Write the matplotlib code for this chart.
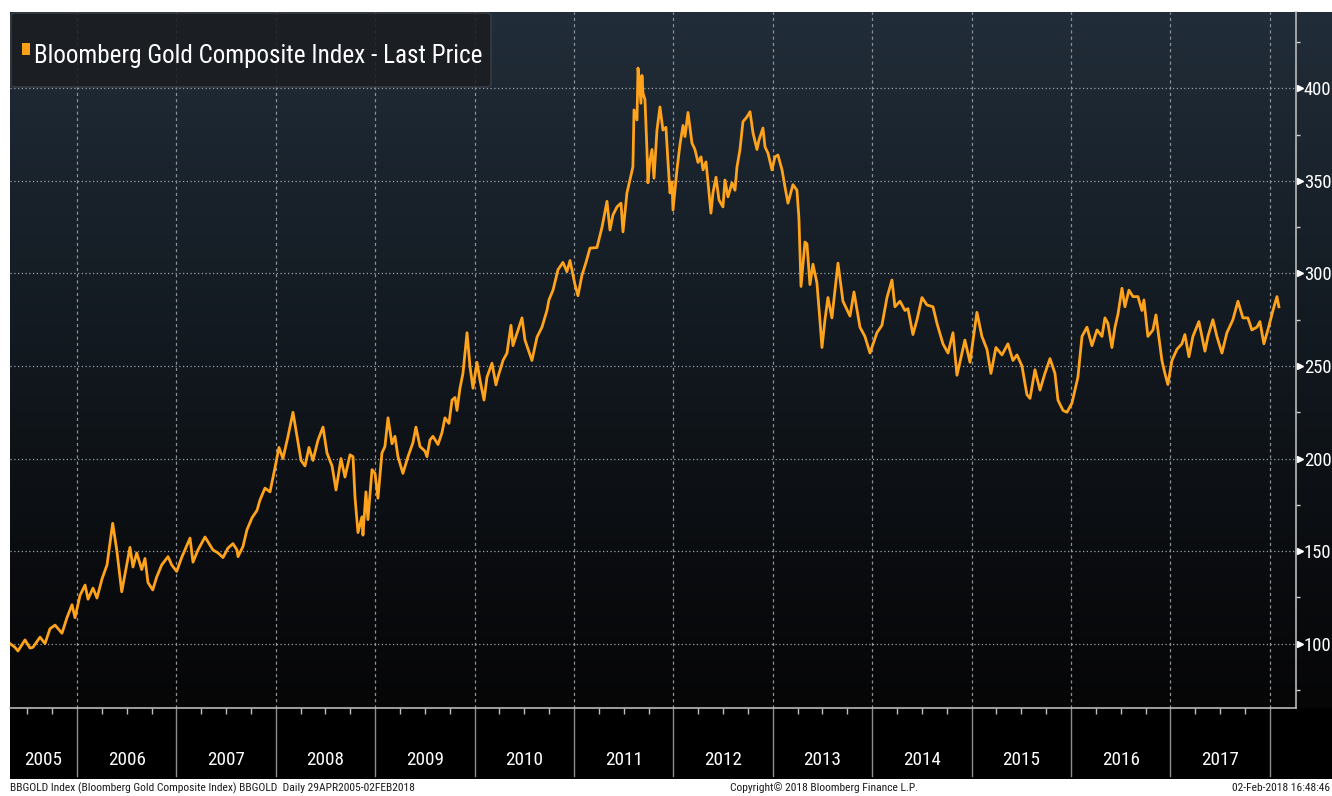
import os
import numpy as np
import matplotlib
matplotlib.use("Agg")
import matplotlib.pyplot as plt
from matplotlib import font_manager as fm
from matplotlib.colors import LinearSegmentedColormap
from matplotlib.patches import Rectangle, FancyBboxPatch
from matplotlib.textpath import TextPath
import matplotlib.transforms as mtransforms

# ---------------- data (decimal years, index level) ----------------
dates = [
    2005.326, 2005.376, 2005.406, 2005.477, 2005.527, 2005.557, 2005.628, 2005.678, 2005.728, 2005.779,
    2005.849, 2005.899, 2005.950, 2005.980, 2006.030, 2006.081, 2006.111, 2006.161, 2006.201, 2006.252,
    2006.302, 2006.359, 2006.400, 2006.450, 2006.500, 2006.533, 2006.563, 2006.601, 2006.651, 2006.684,
    2006.714, 2006.762, 2006.802, 2006.852, 2006.916, 2006.953, 2007.003, 2007.053, 2007.137, 2007.167,
    2007.217, 2007.288, 2007.318, 2007.368, 2007.419, 2007.469, 2007.519, 2007.569, 2007.610, 2007.620,
    2007.670, 2007.710, 2007.761, 2007.811, 2007.841, 2007.891, 2007.942, 2007.992, 2008.032, 2008.072,
    2008.123, 2008.173, 2008.213, 2008.254, 2008.294, 2008.334, 2008.374, 2008.425, 2008.475, 2008.515,
    2008.566, 2008.606, 2008.656, 2008.696, 2008.747, 2008.777, 2008.797, 2008.827, 2008.867, 2008.877,
    2008.907, 2008.927, 2008.968, 2008.998, 2009.028, 2009.068, 2009.098, 2009.129, 2009.169, 2009.199,
    2009.229, 2009.279, 2009.330, 2009.380, 2009.410, 2009.451, 2009.501, 2009.521, 2009.551, 2009.581,
    2009.632, 2009.672, 2009.702, 2009.742, 2009.773, 2009.803, 2009.823, 2009.853, 2009.883, 2009.924,
    2009.954, 2009.984, 2010.024, 2010.054, 2010.095, 2010.125, 2010.175, 2010.215, 2010.235, 2010.286,
    2010.326, 2010.366, 2010.386, 2010.437, 2010.477, 2010.507, 2010.577, 2010.628, 2010.678, 2010.728,
    2010.748, 2010.789, 2010.839, 2010.889, 2010.929, 2010.960, 2011.010, 2011.040, 2011.080, 2011.121,
    2011.161, 2011.231, 2011.282, 2011.332, 2011.362, 2011.392, 2011.433, 2011.473, 2011.493, 2011.533,
    2011.563, 2011.593, 2011.604, 2011.634, 2011.644, 2011.654, 2011.674, 2011.684, 2011.694, 2011.714,
    2011.734, 2011.744, 2011.764, 2011.785, 2011.805, 2011.835, 2011.865, 2011.895, 2011.925, 2011.945,
    2011.966, 2011.986, 2011.996, 2012.036, 2012.066, 2012.097, 2012.117, 2012.147, 2012.187, 2012.217,
    2012.248, 2012.278, 2012.298, 2012.328, 2012.348, 2012.378, 2012.398, 2012.429, 2012.459, 2012.499,
    2012.519, 2012.549, 2012.590, 2012.620, 2012.640, 2012.670, 2012.700, 2012.740, 2012.771, 2012.801,
    2012.841, 2012.861, 2012.901, 2012.922, 2012.952, 2012.992, 2013.022, 2013.052, 2013.093, 2013.123,
    2013.153, 2013.203, 2013.243, 2013.263, 2013.284, 2013.324, 2013.344, 2013.374, 2013.404, 2013.444,
    2013.474, 2013.495, 2013.525, 2013.555, 2013.595, 2013.656, 2013.706, 2013.777, 2013.817, 2013.877,
    2013.927, 2013.978, 2014.048, 2014.098, 2014.149, 2014.199, 2014.229, 2014.280, 2014.330, 2014.360,
    2014.410, 2014.451, 2014.501, 2014.551, 2014.612, 2014.652, 2014.712, 2014.763, 2014.813, 2014.853,
    2014.903, 2014.933, 2014.984, 2015.054, 2015.104, 2015.155, 2015.195, 2015.245, 2015.306, 2015.366,
    2015.416, 2015.457, 2015.507, 2015.557, 2015.588, 2015.638, 2015.688, 2015.738, 2015.789, 2015.839,
    2015.869, 2015.920, 2015.960, 2016.010, 2016.040, 2016.070, 2016.111, 2016.161, 2016.211, 2016.262,
    2016.312, 2016.342, 2016.372, 2016.412, 2016.443, 2016.473, 2016.513, 2016.543, 2016.583, 2016.624,
    2016.674, 2016.714, 2016.734, 2016.774, 2016.825, 2016.855, 2016.875, 2016.915, 2016.945, 2016.975,
    2017.016, 2017.066, 2017.116, 2017.146, 2017.187, 2017.227, 2017.287, 2017.348, 2017.378, 2017.428,
    2017.468, 2017.519, 2017.569, 2017.629, 2017.680, 2017.730, 2017.780, 2017.820, 2017.871, 2017.901,
    2017.941, 2017.981, 2018.032, 2018.072, 2018.092,
]
values = [
    100, 98, 96, 102, 97.6, 98, 103.5, 100, 108, 110,
    105.6, 114, 121, 114, 126, 131.6, 124, 130, 124.6, 135,
    142.5, 165, 150.6, 128, 142.5, 152, 141.4, 149, 140, 146,
    133, 129, 136, 142.5, 147, 142.5, 139, 146.5, 157, 144,
    150.6, 157.6, 155, 150.6, 149, 146.5, 151.6, 154, 150.6, 147,
    152.5, 161.5, 168, 172, 177.6, 184, 182, 195, 206, 200,
    212, 225, 212, 199, 196, 206, 199, 210, 217, 203,
    196, 183, 200, 190, 202, 201, 179, 160, 168.5, 158.6,
    182, 167, 194, 192, 178.6, 203, 206.5, 222, 208, 212,
    201, 192, 201, 208.6, 217, 206.5, 204, 201, 210, 212,
    207.6, 214, 222, 219, 231.6, 233, 226, 238, 246, 268,
    249.6, 238, 252, 242.5, 231.6, 244, 251.5, 239.8, 244, 253,
    257, 272, 261, 269.5, 276, 264, 253, 265.6, 271, 280,
    285.7, 291, 302, 306, 301, 307, 294, 288, 299, 306,
    313.7, 314, 325, 339, 323.5, 331.6, 336, 338, 322.5, 343.5,
    350.5, 357.7, 388.4, 383, 411, 406, 392, 407, 397.5, 394,
    367, 349, 361, 367, 351.5, 377.5, 390, 377.5, 379, 361,
    343.5, 349.5, 334.3, 356, 369.5, 380, 374, 387, 370.5, 367,
    360, 363, 356, 360.3, 349.5, 332.6, 343.5, 352, 339.7, 336,
    350.5, 341.4, 349, 345, 357.6, 367, 382, 384.6, 387.4, 376,
    367, 372, 378.6, 368.4, 365, 356, 363, 364, 356, 346.7,
    338, 348, 345, 330, 293, 317, 316, 294, 305, 295,
    275, 260, 275, 287, 276, 305.6, 285, 277, 290, 271,
    266, 257, 268, 272, 287, 296.5, 282, 285, 280, 281,
    267, 275, 287, 283, 282, 273, 262, 257, 268, 245,
    257, 264, 252, 279, 266, 259, 246, 260, 256, 262,
    253, 256, 250, 234.5, 232.5, 248, 237, 246, 254, 246,
    231.6, 226, 225, 230, 237, 244, 266, 271, 261, 269.5,
    266, 276, 273, 260, 271, 278, 292, 282, 291, 287.5,
    287.5, 280, 285.7, 266, 269.5, 277.6, 269.5, 253, 246, 240,
    253, 259, 262, 267, 255, 266, 274, 258, 266, 275,
    266, 257, 268, 275, 285, 276, 276, 269.5, 271, 274,
    262, 269.5, 280, 287.5, 282,
]

year_labels = ["2005", "2006", "2007", "2008", "2009", "2010", "2011",
               "2012", "2013", "2014", "2015", "2016", "2017"]
y_ticks = [100, 150, 200, 250, 300, 350, 400]
y_minor = [75, 125, 175, 225, 275, 325, 375, 425]
title = "Bloomberg Gold Composite Index - Last Price"
footer_left = "BBGOLD Index (Bloomberg Gold Composite Index) BBGOLD  Daily 29APR2005-02FEB2018"
footer_mid = "Copyright\u00a9 2018 Bloomberg Finance L.P."
footer_right = "02-Feb-2018 16:48:46"

# ---------------- font: prefer a condensed face ----------------
PREF = ["liberationsansnarrow-regular", "robotocondensed-regular", "notosans-condensed.",
        "dejavusanscondensed.", "opensans-condensed", "notosans-semicondensed.",
        "opensans-semicondensed"]
chosen = None
files = [e.fname for e in fm.fontManager.ttflist]
for p in PREF:
    for f in files:
        if os.path.basename(f).lower().startswith(p):
            chosen = f
            break
    if chosen:
        break
if chosen:
    BASE = fm.FontProperties(fname=chosen)
else:
    BASE = fm.FontProperties(family="DejaVu Sans")

PX = 100 / 72.0


def fitted(s, target_w, target_cap):
    w = TextPath((0, 0), s, size=10, prop=BASE).get_extents().width * PX
    h = TextPath((0, 0), "H0", size=10, prop=BASE).get_extents().height * PX
    sw = 10 * target_w / w
    sh = 10 * target_cap / h
    size = min(np.sqrt(sw * sh), sw)
    fp = BASE.copy()
    fp.set_size(size)
    return fp


FP_TITLE = fitted(title, 446, 24)
FP_YEAR = fitted("2005", 36, 15)
FP_YTICK = fitted("400", 26, 15)
FP_FOOT = fitted(footer_left, 403, 9.5)

W, H = 1332, 796
fig = plt.figure(figsize=(W / 100, H / 100), dpi=100, facecolor="white")


def fx(px):
    return px / W


def fy(py):
    return 1 - py / H


PL, PR, PT, PB = 10, 1296, 12, 708
BAND_BOTTOM = 779

# gradient background (plot area + right label strip)
ax_bg = fig.add_axes([fx(PL), fy(PB), 1 - fx(PL), (PB - PT) / H], zorder=0)
cmap = LinearSegmentedColormap.from_list(
    "bbg", [(0.0, "#212d39"), (0.45, "#131a21"), (0.8, "#0a0c0f"), (1.0, "#060607")])
grad = np.linspace(0, 1, 256).reshape(-1, 1)
ax_bg.imshow(grad, aspect="auto", cmap=cmap, extent=[0, 1, 0, 1], origin="upper")
ax_bg.set_axis_off()

# black year band
fig.add_artist(Rectangle((fx(PL), fy(BAND_BOTTOM)), 1 - fx(PL), (BAND_BOTTOM - PB) / H,
                         transform=fig.transFigure, facecolor="black", edgecolor="none", zorder=-1))

ax = fig.add_axes([fx(PL), fy(PB), (PR - PL) / W, (PB - PT) / H], zorder=1)
ax.patch.set_alpha(0)

x0, x1 = 2005.326, 2018.264
y0, y1 = 65.2, 441.3

ax.plot(dates, values, color="#ffa31c", lw=2.0, solid_joinstyle="round", zorder=3)
ax.set_xlim(x0, x1)
ax.set_ylim(y0, y1)

# y axis on right
ax.yaxis.tick_right()
ax.set_yticks(y_ticks)
ax.set_yticklabels([str(v) for v in y_ticks])
ax.set_yticks(y_minor, minor=True)
ax.tick_params(axis="y", which="major", length=0, pad=5.5, labelcolor="white")
ax.tick_params(axis="y", which="minor", length=3, width=1, color="#d0d0d0", direction="out")
for lab in ax.get_yticklabels():
    lab.set_fontproperties(FP_YTICK)

# x axis: year boundaries + quarterly ticks
year_bounds = list(range(2006, 2019))
ax.set_xticks(year_bounds)
ax.set_xticklabels([])
quarters = [q / 4 for q in range(2005 * 4 + 2, 2018 * 4 + 1)]
ax.set_xticks(quarters, minor=True)
ax.tick_params(axis="x", which="major", length=0)
ax.tick_params(axis="x", which="minor", length=4, width=1, color="#bdbdbd", direction="out")

# grid
for v in y_ticks:
    ax.axhline(v, color="#9aa0a6", lw=0.9, ls=(0, (1, 2)), zorder=1)
for yb in year_bounds:
    ax.axvline(yb, color="#8a9096", lw=0.9, ls=(0, (2.5, 2.5)), zorder=1)

for s in ["top", "left"]:
    ax.spines[s].set_visible(False)
for s in ["right", "bottom"]:
    ax.spines[s].set_color("#b8b8b8")
    ax.spines[s].set_linewidth(1.2)

# triangles next to y labels
tr_y = mtransforms.blended_transform_factory(ax.transAxes, ax.transData)
ax.plot([1 + 3.5 / (PR - PL)] * len(y_ticks), y_ticks, ls="none", marker=">", ms=5,
        color="white", transform=tr_y, clip_on=False, zorder=4)

# year separators + labels in band
tr_x = mtransforms.blended_transform_factory(ax.transData, ax.transAxes)
band_h = (BAND_BOTTOM - 3 - PB) / (PB - PT)
for yb in year_bounds:
    ax.plot([yb, yb], [0, -band_h], color="#8d8d8d", lw=1, transform=tr_x, clip_on=False)
for lab in year_labels:
    yr = int(lab)
    c = (max(yr, x0) + yr + 1) / 2
    ax.text(c, -52 / (PB - PT), lab, transform=tr_x, ha="center", va="center",
            color="white", fontproperties=FP_YEAR)

# title box
fig.add_artist(FancyBboxPatch((fx(11), fy(87)), (491 - 11) / W, (87 - 13) / H,
                              boxstyle="round,pad=0,rounding_size=0.004",
                              transform=fig.transFigure, facecolor="#1b1e22",
                              edgecolor="#3e434a", lw=1, alpha=0.88, zorder=5))
fig.add_artist(Rectangle((fx(21.5), fy(55)), 8 / W, 12 / H, transform=fig.transFigure,
                         facecolor="#f7a11a", edgecolor="none", zorder=6))
fig.text(fx(34), fy(63), title, ha="left", va="baseline", color="white",
         fontproperties=FP_TITLE, zorder=7)

# footer
fig.text(fx(10), fy(788), footer_left, ha="left", va="center", fontproperties=FP_FOOT, color="#1a1a1a")
fig.text(fx(730), fy(788), footer_mid, ha="left", va="center", fontproperties=FP_FOOT, color="#1a1a1a")
fig.text(fx(1330), fy(788), footer_right, ha="right", va="center", fontproperties=FP_FOOT, color="#1a1a1a")

fig.savefig("out.png", dpi=100, facecolor="white")
